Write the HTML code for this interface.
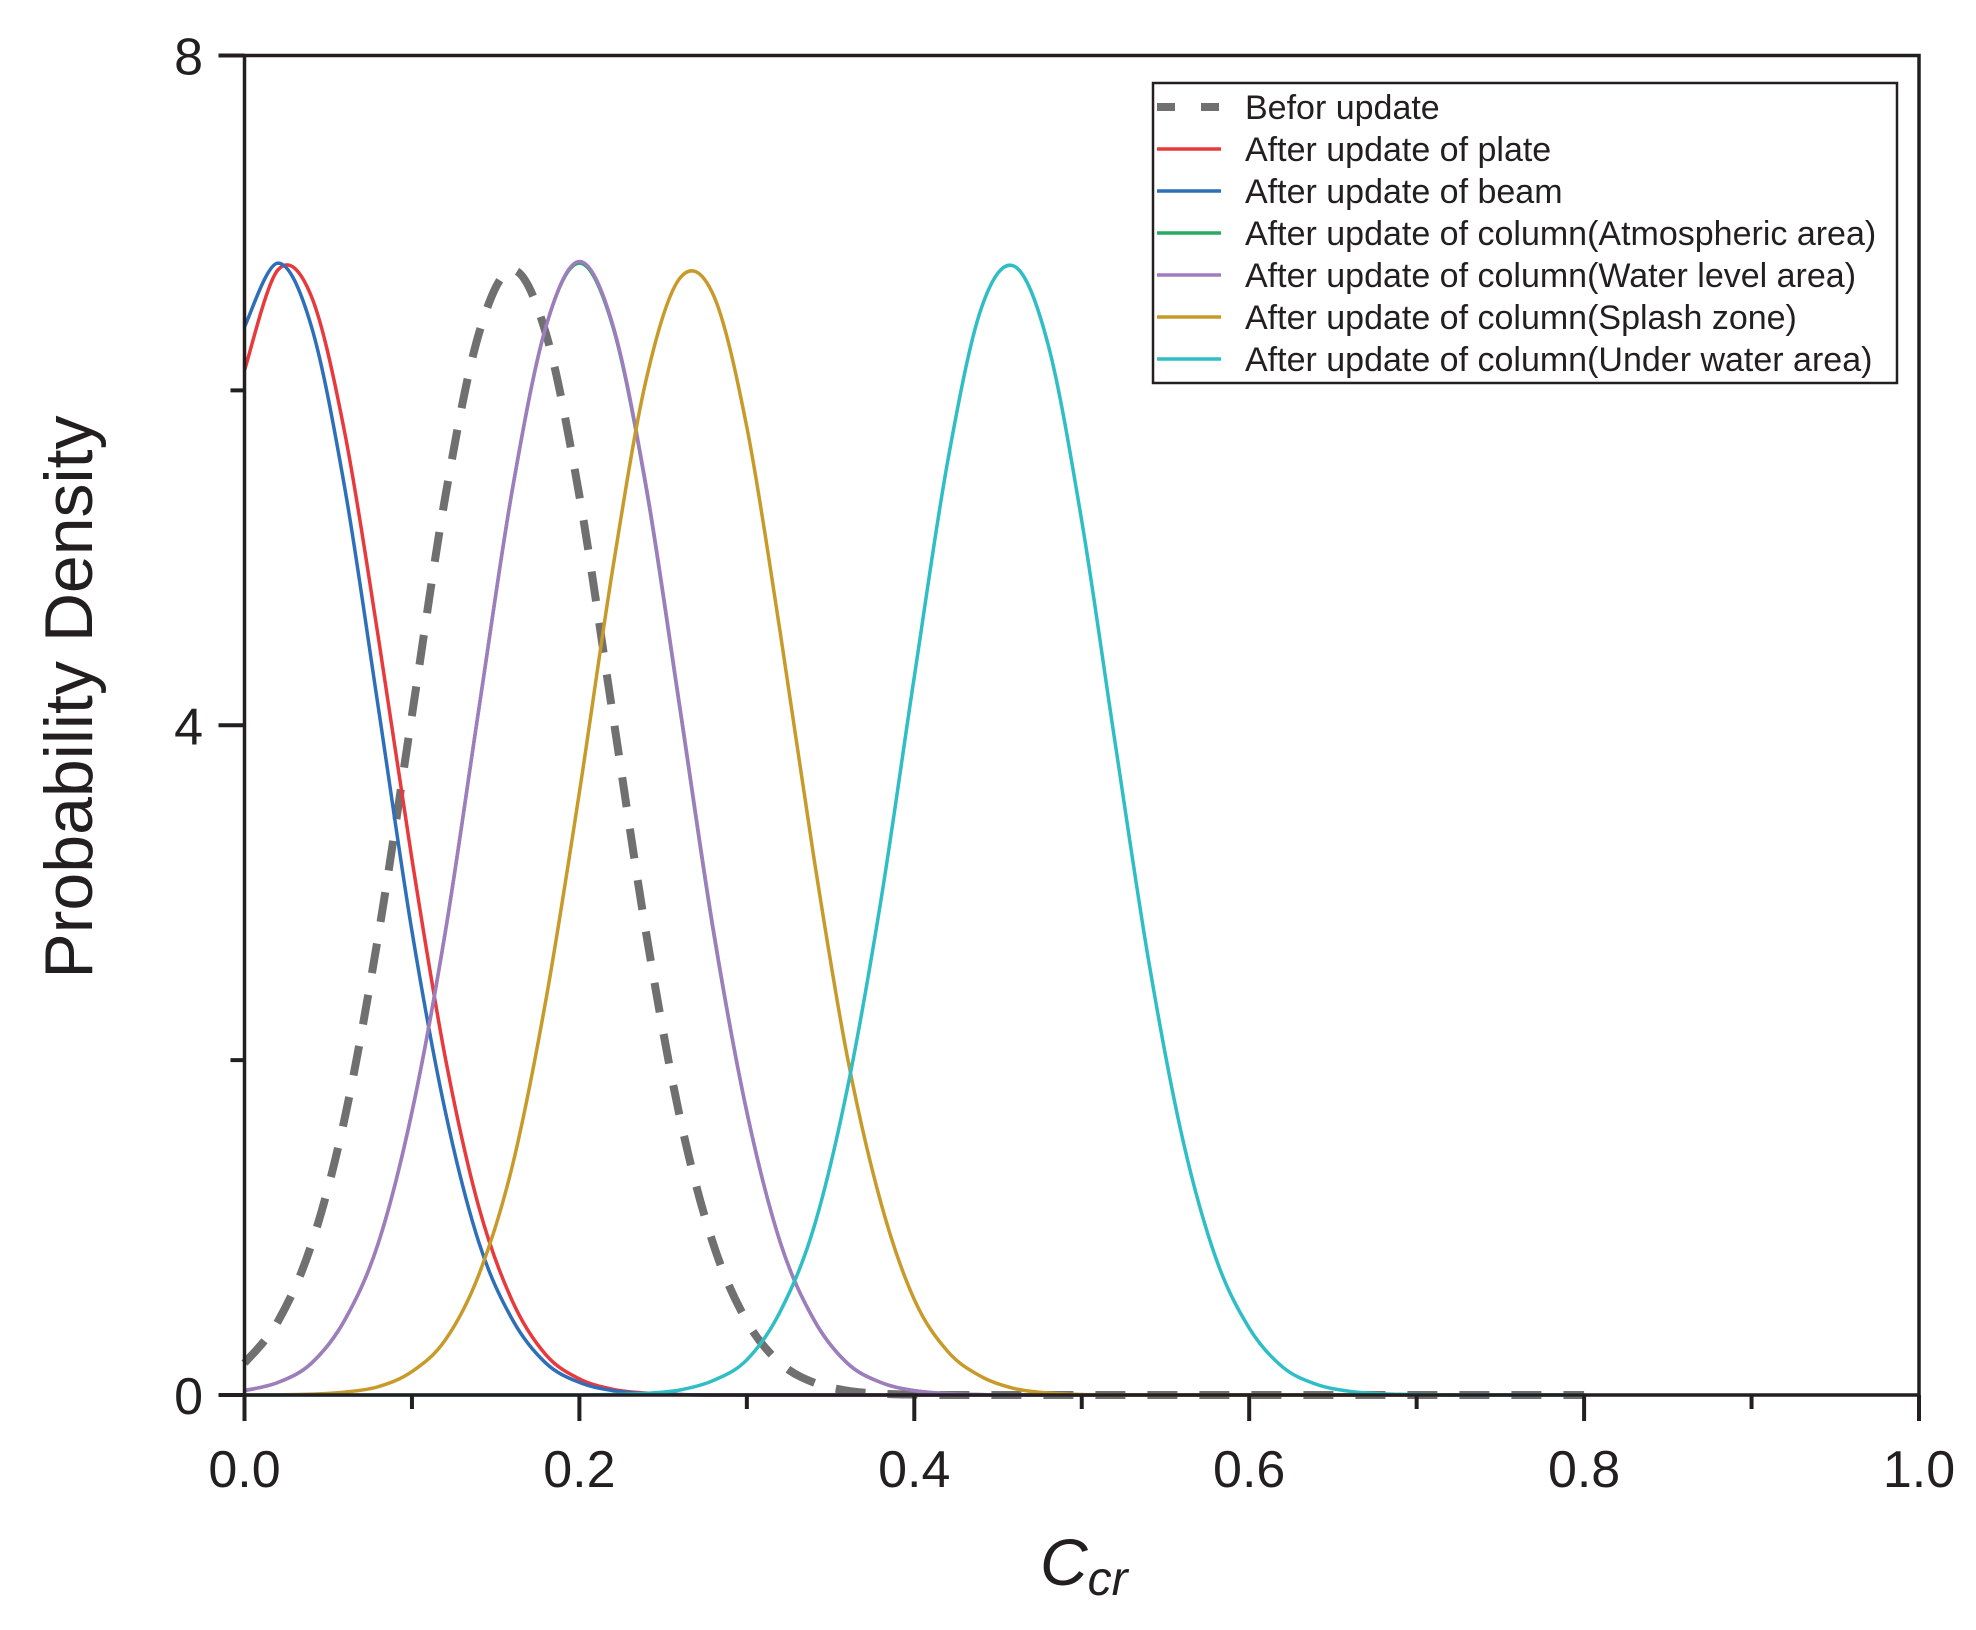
<!DOCTYPE html>
<html><head><meta charset="utf-8"><style>
html,body{margin:0;padding:0;background:#fff;}
svg{display:block;font-family:"Liberation Sans",Arial,sans-serif;}
</style></head><body>
<svg id="chart" width="1976" height="1630" viewBox="0 0 1976 1630" xmlns="http://www.w3.org/2000/svg">
<g id="series"></g>
<g id="axes"></g>
<g id="legend"></g>
</svg>
<script>
const xValues = [0,0.02,0.04,0.06,0.08,0.10,0.12,0.14,0.16,0.18,0.20,0.22,0.24,0.26,0.28,0.30,0.32,0.34,0.36,0.38,0.40,0.42,0.44,0.46,0.48,0.50,0.52,0.54,0.56,0.58,0.60,0.62,0.64,0.66,0.68,0.70,0.72,0.74,0.76,0.78,0.80];
const beforeValues = [0.19,0.44,0.9,1.66,2.75,4.06,5.37,6.34,6.72,6.34,5.37,4.06,2.75,1.66,0.9,0.44,0.19,0.074,0.026,0.008,0.002,0,0,0,0,0,0,0,0,0,0,0,0,0,0,0,0,0,0,0,0];
const plateValues = [6.12,6.72,6.56,5.74,4.52,3.2,2.01,1.12,0.56,0.24,0.096,0.034,0.011,0.003,0,0,0,0,0,0,0,0,0,0,0,0,0,0,0,0,0,0,0,0,0,0,0,0,0,0,0];
const beamValues = [6.38,6.76,6.38,5.41,4.1,2.77,1.69,0.91,0.45,0.19,0.075,0.026,0.008,0.002,0,0,0,0,0,0,0,0,0,0,0,0,0,0,0,0,0,0,0,0,0,0,0,0,0,0,0];
const atmosValues = [0.026,0.075,0.19,0.45,0.91,1.69,2.77,4.1,5.41,6.38,6.76,6.38,5.41,4.1,2.77,1.69,0.91,0.45,0.19,0.075,0.026,0.008,0.002,0,0,0,0,0,0,0,0,0,0,0,0,0,0,0,0,0,0];
const waterLevelValues = [0.026,0.075,0.19,0.45,0.91,1.69,2.77,4.1,5.41,6.38,6.77,6.39,5.42,4.11,2.78,1.69,0.91,0.45,0.19,0.075,0.026,0.008,0.002,0,0,0,0,0,0,0,0,0,0,0,0,0,0,0,0,0,0];
const splashValues = [0,0.001,0.005,0.017,0.05,0.14,0.33,0.72,1.37,2.36,3.6,4.94,6.07,6.67,6.57,5.78,4.55,3.21,2.02,1.15,0.57,0.26,0.11,0.038,0.012,0.003,0,0,0,0,0,0,0,0,0,0,0,0,0,0,0];
const underWaterValues = [0,0,0,0,0,0,0,0,0,0,0,0.003,0.01,0.03,0.087,0.21,0.5,1.0,1.83,2.95,4.29,5.58,6.49,6.74,6.27,5.22,3.89,2.59,1.54,0.82,0.4,0.167,0.064,0.022,0.007,0.002,0,0,0,0,0];
const xTickValues = [0,0.1,0.2,0.3,0.4,0.5,0.6,0.7,0.8,0.9,1.0];
const xTickLabels = ["0.0","","0.2","","0.4","","0.6","","0.8","","1.0"];
const yTickValues = [0,2,4,6,8];
const yTickLabels = ["0","","4","","8"];
const seriesNames = ["Befor update","After update of plate","After update of beam","After update of column(Atmospheric area)","After update of column(Water level area)","After update of column(Splash zone)","After update of column(Under water area)"];

const NS="http://www.w3.org/2000/svg";
const L=244.5,R=1919,T=55.5,B=1395;
const xs=v=>L+(v-0)/(1-0)*(R-L);
const ys=v=>B-(v/8)*(B-T);
function mk(tag,attrs,parent){const e=document.createElementNS(NS,tag);for(const k in attrs)e.setAttribute(k,attrs[k]);parent.appendChild(e);return e;}

const series=[
 {vals:beforeValues,color:"#707070",w:8,dash:"30 22",name:"series-befor-update"},
 {vals:plateValues,color:"#e8393c",w:3.5,dash:"",name:"series-plate"},
 {vals:beamValues,color:"#2e6fba",w:3.5,dash:"",name:"series-beam"},
 {vals:atmosValues,color:"#2aa965",w:3.5,dash:"",name:"series-atmospheric-area"},
 {vals:waterLevelValues,color:"#a07cbf",w:3.5,dash:"",name:"series-water-level-area"},
 {vals:splashValues,color:"#c89a2a",w:3.5,dash:"",name:"series-splash-zone"},
 {vals:underWaterValues,color:"#2fbec6",w:3.5,dash:"",name:"series-under-water-area"}
];
const gS=document.getElementById('series');
function smooth(pts){let d="M"+pts[0][0]+","+pts[0][1];for(let i=0;i<pts.length-1;i++){const p0=pts[i-1]||pts[i],p1=pts[i],p2=pts[i+1],p3=pts[i+2]||p2;
 let c1y=p1[1]+(p2[1]-p0[1])/6,c2y=p2[1]-(p3[1]-p1[1])/6;c1y=Math.min(c1y,B);c2y=Math.min(c2y,B);
 d+=" C"+(p1[0]+(p2[0]-p0[0])/6)+","+c1y+" "+(p2[0]-(p3[0]-p1[0])/6)+","+c2y+" "+p2[0]+","+p2[1];}return d;}
series.forEach(s=>{
 const pts=xValues.map((x,i)=>[xs(x),ys(s.vals[i])]);
 const p=mk('path',{d:smooth(pts),fill:"none",stroke:s.color,"stroke-width":s.w,"stroke-dasharray":s.dash,"stroke-linejoin":"round"},gS);
 
 
});

const gA=document.getElementById('axes');
const frame=mk('rect',{x:L,y:T,width:R-L,height:B-T,fill:"none",stroke:"#231f20","stroke-width":3.5},gA);


xTickValues.forEach((v,i)=>{
 const major=xTickLabels[i]!=="";
 const t=mk('line',{x1:xs(v),x2:xs(v),y1:B,y2:B+(major?26:14),stroke:"#231f20","stroke-width":4},gA);
 
 
 if(major){const lb=mk('text',{x:xs(v),y:1487,"font-size":52,"text-anchor":"middle",fill:"#231f20"},gA);lb.textContent=xTickLabels[i];
 
 }
});
yTickValues.forEach((v,i)=>{
 const major=yTickLabels[i]!=="";
 const t=mk('line',{x1:L-(major?26:14),x2:L,y1:ys(v),y2:ys(v),stroke:"#231f20","stroke-width":4},gA);
 
 
 if(major){const lb=mk('text',{x:203,y:ys(v)+19,"font-size":52,"text-anchor":"end",fill:"#231f20"},gA);lb.textContent=yTickLabels[i];
 
 }
});
const yt=mk('text',{x:0,y:0,"font-size":68,"text-anchor":"middle",fill:"#231f20",transform:"translate(92,697) rotate(-90)"},gA);
yt.textContent="Probability Density";


const xt=mk('text',{x:1040,y:1585,"font-size":66,"font-style":"italic",fill:"#231f20"},gA);
xt.innerHTML='C<tspan font-size="48" dy="10">cr</tspan>';



const gL=document.getElementById('legend');
const box=mk('rect',{x:1153,y:83,width:744,height:300,fill:"#fff",stroke:"#231f20","stroke-width":2.5},gL);


const rowY=[107,149,191,233,275,317,359];
series.forEach((s,i)=>{
 const ln=mk('line',{x1:1157,x2:1221,y1:rowY[i],y2:rowY[i],stroke:s.color,"stroke-width":s.w===8?8:3.5,"stroke-dasharray":s.dash?"18 26":""},gL);
 
 
 const tx=mk('text',{x:1245,y:rowY[i]+12,"font-size":34,fill:"#231f20",textLength:"",}, gL);
 tx.removeAttribute('textLength');
 tx.textContent=seriesNames[i];
 
 
});
</script>
</body></html>
